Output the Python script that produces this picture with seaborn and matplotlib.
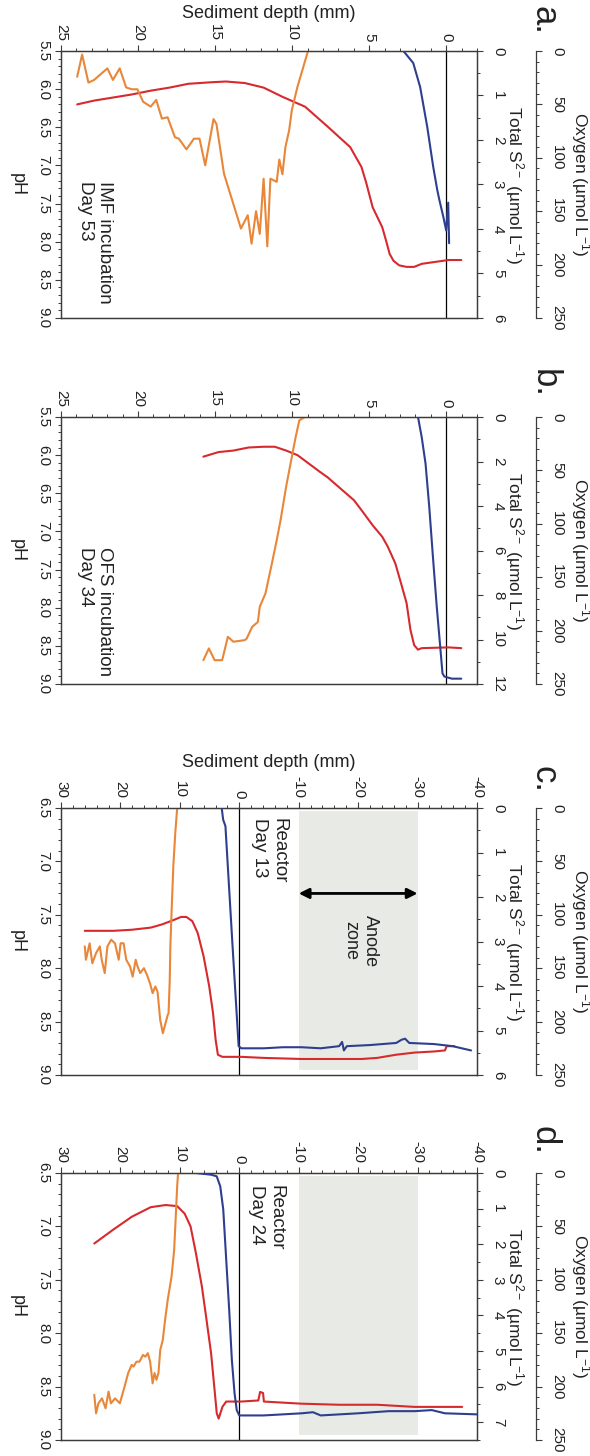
import matplotlib
matplotlib.use("Agg")
import matplotlib.pyplot as plt
import seaborn as sns
from matplotlib.ticker import MultipleLocator

# ---------------- data ----------------
# Panel a (IMF incubation, day 53)
a_ph_depth = [-0.98, -0.14, 1.59, 2.08, 2.57, 3.05, 3.42, 3.67, 3.91, 4.15, 4.77, 5.20, 5.50, 6.23, 7.70,
              9.16, 10.63, 11.85, 13.07, 14.30, 15.27, 16.74, 17.96, 19.18, 20.41, 21.63, 22.85, 23.95]
a_ph = [8.24, 8.24, 8.29, 8.33, 8.33, 8.31, 8.25, 8.16, 7.98, 7.81, 7.55, 7.22, 7.02, 6.76, 6.49,
        6.23, 6.10, 5.98, 5.92, 5.90, 5.91, 5.93, 5.98, 6.02, 6.07, 6.11, 6.15, 6.20]
a_s_depth = [-0.98, 8.97, 9.41, 9.65, 10.02, 10.19, 10.43, 10.63, 10.83, 11.00, 11.41, 11.61, 11.85,
             12.10, 12.34, 12.63, 12.88, 13.32, 14.42, 14.91, 15.10, 15.64, 16.01, 16.37, 16.86,
             17.35, 17.60, 18.08, 18.45, 18.82, 19.18, 19.67, 20.04, 20.41, 20.77, 21.19, 21.63,
             21.99, 22.85, 23.22, 23.63, 23.95]
a_s = [0, 0, 0.52, 0.80, 1.33, 1.78, 2.15, 2.77, 2.44, 2.94, 2.87, 4.39, 2.87, 4.11, 3.60, 4.33,
       3.69, 3.99, 2.76, 1.64, 1.53, 2.57, 1.97, 1.97, 2.21, 1.97, 1.94, 1.49, 1.52, 1.10, 1.25,
       1.14, 0.86, 0.86, 0.82, 0.39, 0.65, 0.39, 0.65, 0.71, 0.08, 0.58]
a_o_depth = [2.75, 2.14, 1.69, 1.23, 0.84, 0.58, 0.45, 0.19, 0.0, -0.13, -0.19]
a_o = [0.5, 11.2, 33.7, 71, 108.6, 130, 139, 155, 168, 142, 180]

# Panel b (OFS incubation, day 34)
b_ph_depth = [-0.98, -0.14, 1.59, 1.83, 2.08, 2.32, 2.57, 2.93, 3.30, 3.79, 4.15, 4.77, 5.50, 5.99,
              6.96, 7.70, 8.19, 8.92, 9.65, 10.39, 11.12, 11.85, 12.83, 13.81, 14.78, 15.76]
b_ph = [8.53, 8.52, 8.53, 8.55, 8.49, 8.29, 7.94, 7.68, 7.42, 7.20, 7.07, 6.92, 6.72, 6.59,
        6.42, 6.29, 6.22, 6.11, 6.00, 5.94, 5.89, 5.89, 5.90, 5.94, 5.96, 6.02]
b_s_depth = [-0.98, 9.16, 9.53, 9.77, 10.02, 10.39, 10.75, 11.00, 11.36, 11.73, 12.10, 12.22, 12.59,
             12.95, 13.08, 13.81, 14.17, 14.54, 15.03, 15.40, 15.76]
b_s = [0, 0, 0.15, 0.90, 1.80, 3.14, 4.64, 5.54, 6.74, 7.93, 8.53, 9.21, 9.43, 9.96, 10.03, 10.10,
       9.88, 10.93, 10.93, 10.40, 10.93]
b_o_depth = [1.83, 1.59, 1.34, 1.10, 0.86, 0.61, 0.37, 0.24, 0.12, -0.12, -0.37, -0.98]
b_o = [0, 18.7, 43.6, 84, 131, 178, 218, 240, 243, 244, 245, 245]

# Panel c (Reactor, day 13)
c_ph_depth = [26.0, 21.2, 18.1, 14.9, 13.0, 11.1, 9.8, 8.9, 7.9, 7.0, 6.0, 5.06, 4.42, 3.98, 3.60,
              2.84, -0.34, -4.14, -10.5, -16.8, -20.6, -23.2, -26.4, -29.5, -32.7, -34.6, -34.9,
              -35.6, -36.2]
c_ph = [7.65, 7.65, 7.64, 7.62, 7.59, 7.55, 7.52, 7.52, 7.56, 7.67, 7.89, 8.17, 8.42, 8.67, 8.81,
        8.83, 8.83, 8.84, 8.85, 8.85, 8.85, 8.84, 8.81, 8.79, 8.78, 8.77, 8.73, 8.73, 8.73]
c_s_depth = [-37.0, 10.45, 10.77, 11.1, 11.4, 11.6, 11.7, 11.9, 12.04, 12.86, 13.31, 13.75, 14.13,
             14.58, 15.02, 15.53, 16.04, 16.29, 16.67, 17.12, 17.43, 17.94, 18.39, 19.02, 19.47,
             19.97, 20.29, 20.92, 21.56, 22.19, 22.64, 23.15, 23.46, 24.10, 24.73, 25.18, 25.81, 26.00]
c_s = [0, 0, 0.56, 1.31, 2.36, 3.11, 3.86, 4.61, 4.65, 5.06, 4.76, 4.13, 4.01, 4.16, 3.94, 3.75,
       3.60, 3.64, 3.71, 3.56, 3.41, 3.79, 3.56, 3.41, 3.04, 3.04, 3.41, 3.04, 2.96, 3.11, 3.71,
       3.41, 3.11, 3.26, 3.49, 3.04, 3.41, 3.11]
c_o_depth = [2.96, 2.71, 2.33, 1.2, 0.11, -0.34, -4.14, -7.3, -10.5, -13.7, -16.8, -17.3, -17.6,
             -18.1, -21.9, -26.4, -27.3, -27.9, -28.6, -32.7, -35.9, -39.0]
c_o = [0, 11, 17, 123, 223, 225, 225, 224, 224, 225, 223, 219, 227, 223, 222, 220, 217, 216, 220,
       221, 223, 227]

# Panel d (Reactor, day 24)
d_ph_depth = [24.4, 21.2, 18.1, 14.9, 12.4, 10.45, 9.2, 8.2, 7.3, 6.3, 5.5, 4.74, 4.11, 3.79, 3.47,
              2.84, 2.2, -0.3, -3.2, -3.5, -4.0, -4.14, -10.5, -16.8, -23.2, -29.5, -37.5]
d_ph = [7.16, 7.03, 6.91, 6.82, 6.80, 6.81, 6.88, 7.0, 7.25, 7.56, 7.88, 8.19, 8.56, 8.75, 8.80,
        8.69, 8.64, 8.64, 8.63, 8.55, 8.56, 8.64, 8.66, 8.67, 8.67, 8.69, 8.69]
d_s_depth = [-37.8, 10.3, 10.45, 10.77, 10.96, 11.4, 12.04, 12.48, 12.87, 13.3, 13.6, 13.94, 14.26,
             14.58, 15.0, 15.4, 15.8, 16.2, 16.8, 17.3, 17.8, 18.1, 18.7, 19.3, 20.1, 20.9, 21.6,
             22.0, 22.5, 23.1, 23.7, 24.1, 24.4]
d_s = [0, 0, 0.37, 1.5, 2.16, 2.91, 3.56, 4.12, 4.69, 4.97, 5.62, 5.81, 5.62, 5.91, 5.30, 5.06,
       5.16, 5.11, 5.30, 5.30, 5.44, 5.39, 5.62, 6.0, 6.47, 6.33, 6.47, 6.14, 6.61, 6.33, 6.47,
       6.75, 6.23]
d_o_depth = [7.3, 4.74, 3.8, 3.2, 2.7, 2.2, 1.7, 1.25, 0.8, 0.43, 0.0, -0.34, -4.1, -10.5, -12.4,
             -13.7, -20.0, -25.1, -29.5, -32.4, -34.6, -40.0]
d_o = [0, 1.6, 3.1, 12.5, 34, 81, 128, 175, 206, 222, 227, 227, 227, 225, 224, 227, 225, 223, 223,
       222, 225, 226]

panel_letters = ["a.", "b.", "c.", "d."]
panel_notes = ["IMF incubation\nDay 53", "OFS incubation\nDay 34", "Reactor\nDay 13", "Reactor\nDay 24"]
anode_zone = (-10, -30)

# ---------------- style ----------------
sns.set_style("ticks")
plt.rcParams["font.family"] = ["Liberation Sans", "DejaVu Sans"]
plt.rcParams["mathtext.fontset"] = "custom"
plt.rcParams["mathtext.rm"] = "Liberation Sans"
plt.rcParams["mathtext.it"] = "Liberation Sans:italic"
plt.rcParams["mathtext.default"] = "regular"
plt.rcParams["axes.unicode_minus"] = False
plt.rcParams["ytick.alignment"] = "center"

ORANGE = "#e8873a"
RED = "#d62a2e"
BLUE = "#2e3f8f"
SPINE = "#3c3c3c"
TXT = "#222222"
TICK_FS = 11
LAB_FS = 12.5

W, H = 590, 1456
fig = plt.figure(figsize=(W / 100, H / 100), dpi=100)

def px_rect(x0, y0, x1, y1):
    return [x0 / W, 1 - y1 / H, (x1 - x0) / W, (y1 - y0) / H]

panels = [
    dict(rect=px_rect(61, 51, 477, 318), dlim=(25, -2), dmaj=5, dmin=1, phlim=(5.5, 9.0),
         slim=6, smaj=1, smin=0.5, ph=(a_ph_depth, a_ph), s=(a_s_depth, a_s), o=(a_o_depth, a_o),
         depth_label=True, note_xy=(22.8, 7.2), zone=False, label_y=1.142),
    dict(rect=px_rect(61, 417, 477, 684), dlim=(25, -2), dmaj=5, dmin=1, phlim=(5.5, 9.0),
         slim=12, smaj=2, smin=1, ph=(b_ph_depth, b_ph), s=(b_s_depth, b_s), o=(b_o_depth, b_o),
         depth_label=False, note_xy=(22.8, 7.2), zone=False, label_y=1.142),
    dict(rect=px_rect(61, 808, 477, 1075), dlim=(30, -40), dmaj=10, dmin=2, phlim=(6.5, 9.0),
         slim=6, smaj=1, smin=0.5, ph=(c_ph_depth, c_ph), s=(c_s_depth, c_s), o=(c_o_depth, c_o),
         depth_label=True, note_xy=(-5.1, 6.59), zone=True, label_y=1.169),
    dict(rect=px_rect(61, 1173, 477, 1440), dlim=(30, -40), dmaj=10, dmin=2, phlim=(6.5, 9.0),
         slim=7.5, smaj=1, smin=0.5, ph=(d_ph_depth, d_ph), s=(d_s_depth, d_s), o=(d_o_depth, d_o),
         depth_label=False, note_xy=(-4.6, 6.61), zone=True, label_y=1.169),
]
letter_y = [20, 383, 779, 1140]

for i, p in enumerate(panels):
    ax = fig.add_axes(p["rect"])
    ax2 = ax.twinx()
    ax3 = ax.twinx()

    if p["zone"]:
        ax.axvspan(anode_zone[0], anode_zone[1], ymin=0.02, ymax=0.988,
                   color="#e8ebe5", lw=0, zorder=0)
    ax.axvline(0, color="black", lw=0.9, zorder=1)

    sns.lineplot(x=p["s"][0], y=p["s"][1], ax=ax2, color=ORANGE, lw=1.5,
                 sort=False, estimator=None, legend=False)
    sns.lineplot(x=p["ph"][0], y=p["ph"][1], ax=ax, color=RED, lw=1.5,
                 sort=False, estimator=None, legend=False, zorder=3)
    sns.lineplot(x=p["o"][0], y=p["o"][1], ax=ax3, color=BLUE, lw=1.5,
                 sort=False, estimator=None, legend=False)

    ax.set_xlim(*p["dlim"])
    ax.set_ylim(p["phlim"][1], p["phlim"][0])
    ax2.set_ylim(p["slim"], 0)
    ax3.set_ylim(250, 0)

    # depth axis (top)
    ax.xaxis.tick_top()
    ax.xaxis.set_major_locator(MultipleLocator(p["dmaj"]))
    ax.xaxis.set_minor_locator(MultipleLocator(p["dmin"]))
    ax.yaxis.set_major_locator(MultipleLocator(0.5))
    ax.yaxis.set_minor_locator(MultipleLocator(0.1))
    ax.yaxis.set_major_formatter(matplotlib.ticker.FormatStrFormatter("%.1f"))
    ax.tick_params(axis="x", which="major", length=4, width=0.8, color=SPINE, pad=3,
                   labelsize=TICK_FS, labelcolor=TXT, labelrotation=-90, direction="out")
    ax.tick_params(axis="x", which="minor", length=2, width=0.7, color=SPINE, direction="out")
    ax.tick_params(axis="y", which="major", length=4, width=0.8, color=SPINE, pad=4,
                   labelsize=TICK_FS, labelcolor=TXT, labelrotation=-90, direction="out")
    ax.tick_params(axis="y", which="minor", length=2, width=0.7, color=SPINE, direction="out")

    ax2.yaxis.set_major_locator(MultipleLocator(p["smaj"]))
    ax2.yaxis.set_minor_locator(MultipleLocator(p["smin"]))
    ax2.tick_params(axis="y", which="major", length=4, width=0.8, color=SPINE, pad=6,
                    labelsize=TICK_FS, labelcolor=TXT, labelrotation=-90, direction="out")
    ax2.tick_params(axis="y", which="minor", length=2, width=0.7, color=SPINE, direction="out")

    ax3.yaxis.set_major_locator(MultipleLocator(50))
    ax3.yaxis.set_minor_locator(MultipleLocator(10))
    ax3.spines["right"].set_position(("axes", 1.142))
    for s in ["left", "top", "bottom"]:
        ax3.spines[s].set_visible(False)
    ax3.spines["right"].set_color(SPINE)
    ax3.spines["right"].set_linewidth(0.9)
    ax3.tick_params(axis="y", which="major", length=4, width=0.8, color=SPINE, pad=6,
                    labelsize=TICK_FS, labelcolor=TXT, labelrotation=-90, direction="out")
    ax3.tick_params(axis="y", which="minor", length=2, width=0.7, color=SPINE, direction="out")

    for a_ in (ax, ax2):
        for s in a_.spines.values():
            s.set_color(SPINE)
            s.set_linewidth(0.9)

    # labels
    ax.set_ylabel("pH", rotation=-90, ha="center", va="center", fontsize=13, color=TXT)
    ax.yaxis.set_label_coords(-0.106, 0.5)
    ax2.set_ylabel("Total S$^{2-}$ (\u00b5mol L$^{-1}$)", rotation=-90, ha="center",
                   va="center", fontsize=LAB_FS, color=TXT)
    ax2.yaxis.set_label_coords(1.091, 0.5)
    ax3.set_ylabel("Oxygen (\u00b5mol L$^{-1}$)", rotation=-90, ha="center", va="center",
                   fontsize=LAB_FS, color=TXT)
    ax3.yaxis.set_label_coords(1.248, 0.5)
    ax2.set_xlabel("")
    ax3.set_xlabel("")
    if p["depth_label"]:
        ax.xaxis.set_label_position("top")
        ax.set_xlabel("Sediment depth (mm)", ha="center", va="center", fontsize=13, color=TXT)
        ax.xaxis.set_label_coords(0.5, p["label_y"])
    else:
        ax.set_xlabel("")

    ax.text(p["note_xy"][0], p["note_xy"][1], panel_notes[i], rotation=-90, ha="center",
            va="top", multialignment="left", fontsize=13.5, color=TXT, zorder=5)

    if p["zone"] and i == 2:
        ax.annotate("", xy=(anode_zone[1], 7.30), xytext=(anode_zone[0], 7.30),
                    arrowprops=dict(arrowstyle="<|-|>", color="black", lw=2,
                                    mutation_scale=15, shrinkA=0, shrinkB=0), zorder=5)
        ax.text(-20.4, 7.50, "Anode\nzone", rotation=-90, ha="center", va="top",
                multialignment="center", fontsize=13, color=TXT, zorder=5)

    fig.text(544 / W, 1 - letter_y[i] / H, panel_letters[i], rotation=-90, ha="center",
             va="center", fontsize=25, color=TXT)

fig.savefig("out.png", dpi=100, facecolor="white")
